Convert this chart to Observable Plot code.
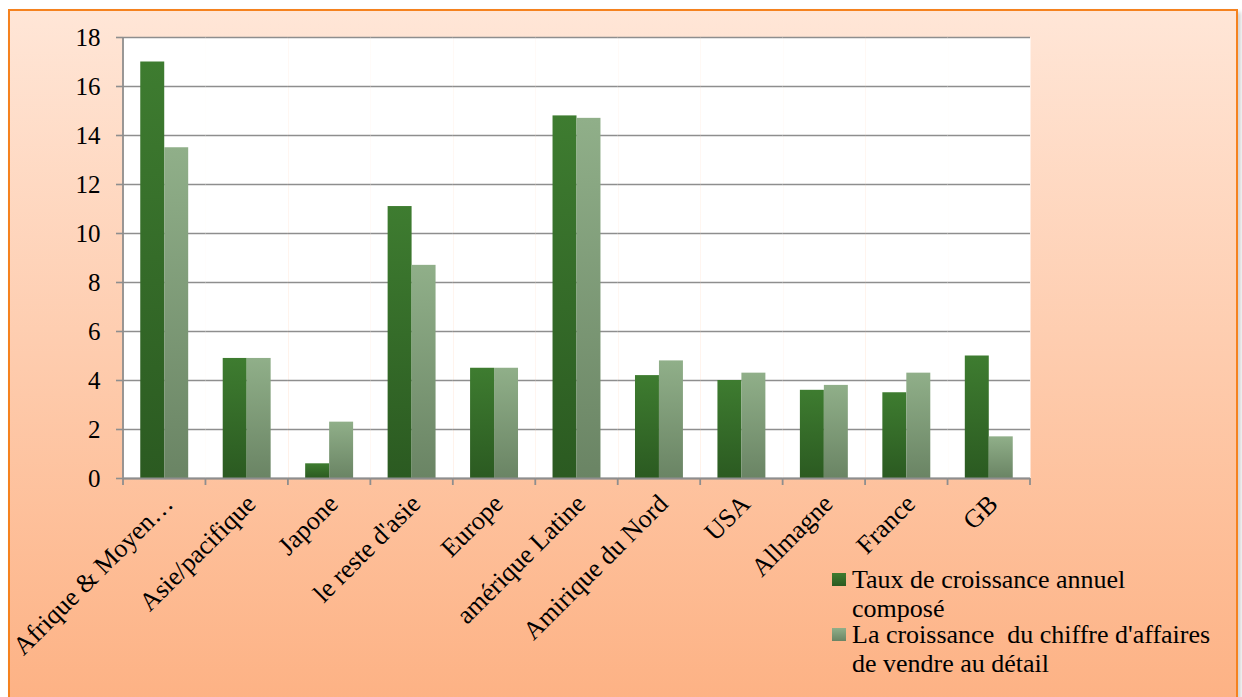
<!DOCTYPE html>
<html>
<head>
<meta charset="utf-8">
<script src="https://cdn.jsdelivr.net/npm/d3@7"></script>
<script src="https://cdn.jsdelivr.net/npm/@observablehq/plot@0.6"></script>
<style>
  html, body { margin: 0; padding: 0; width: 1242px; height: 697px; overflow: hidden; background: #ffffff; }
  #frame {
    position: absolute; left: 8px; top: 9px; width: 1226px; height: 700px;
    border: 2px solid #f5821f;
    background: linear-gradient(to bottom, #ffe6d7 0%, #fdb183 100%);
    box-shadow: 3px 3px 4px rgba(0,0,0,0.18);
  }
  #chart { position: absolute; left: 0; top: 0; }
  #chart svg text { font-family: "Liberation Serif", "DejaVu Serif", serif; }
  #legend {
    position: absolute; left: 832px; top: 565px;
    font-family: "Liberation Serif", "DejaVu Serif", serif; font-size: 26px; color: #000;
    line-height: 29px;
  }
  .item { display: flex; align-items: flex-start; }
  .sw { width: 14px; height: 13px; margin-top: 8px; margin-right: 6px; flex: none; }
  .txt { white-space: pre; }
</style>
</head>
<body>
<div id="frame"></div>
<div id="chart"></div>
<div id="legend"></div>
<script>
const categories = ["Afrique & Moyen…", "Asie/pacifique", "Japone", "le reste d'asie", "Europe",
  "amérique Latine", "Amirique du Nord", "USA", "Allmagne", "France", "GB"];
const seriesNames = ["Taux de croissance annuel composé", "La croissance  du chiffre d'affaires de vendre au détail"];
const tauxAnnuel = [17.0, 4.9, 0.6, 11.1, 4.5, 14.8, 4.2, 4.0, 3.6, 3.5, 5.0];
const croissanceCA = [13.5, 4.9, 2.3, 8.7, 4.5, 14.7, 4.8, 4.3, 3.8, 4.3, 1.7];
const yTicks = [0, 2, 4, 6, 8, 10, 12, 14, 16, 18];
const legendLines = [["Taux de croissance annuel", "composé"], ["La croissance  du chiffre d'affaires", "de vendre au détail"]];

const data = [];
categories.forEach((c, i) => {
  data.push({cat: c, series: seriesNames[0], value: tauxAnnuel[i]});
  data.push({cat: c, series: seriesNames[1], value: croissanceCA[i]});
});

const gridColor = "#8e8e8e";
const font = "'Liberation Serif', 'DejaVu Serif', serif";

const chart = Plot.plot({
  width: 1242,
  height: 697,
  marginLeft: 123,
  marginRight: 212,
  marginTop: 37,
  marginBottom: 219,
  style: { background: "transparent", fontFamily: font, fontSize: "25px", color: "#000", overflow: "visible" },
  fx: { domain: categories, padding: 0, round: false, label: null },
  x: { domain: seriesNames, paddingInner: 0, paddingOuter: 0.72, round: false, axis: null },
  y: { domain: [0, 18], ticks: yTicks, label: null },
  color: { domain: seriesNames, range: ["url(#gDark)", "url(#gLight)"] },
  marks: [
    Plot.frame({ fill: "white", stroke: null }),
    Plot.gridY(yTicks, { stroke: gridColor, strokeOpacity: 1, strokeWidth: 1.6 }),
    Plot.barY(data, { fx: "cat", x: "series", y: "value", fill: "series", insetLeft: 0, insetRight: 0 }),
    Plot.ruleY([0], { stroke: gridColor, strokeWidth: 2 }),
    Plot.axisY(yTicks, { tickSize: 7, tickPadding: 16, stroke: gridColor, strokeWidth: 1.6, fontSize: 25, fill: "#000", label: null }),
    Plot.axisFx({ anchor: "bottom", tickSize: 0, tickRotate: -45, tickPadding: 21, dx: 4, fontSize: 26, fill: "#000", label: null })
  ]
});

// gradients
const svgNS = "http://www.w3.org/2000/svg";
const defs = document.createElementNS(svgNS, "defs");
defs.innerHTML = `
  <linearGradient id="gDark" x1="0" y1="0" x2="0" y2="1">
    <stop offset="0" stop-color="#3e7c30"/><stop offset="1" stop-color="#2b5a21"/>
  </linearGradient>
  <linearGradient id="gLight" x1="0" y1="0" x2="0" y2="1">
    <stop offset="0" stop-color="#90af89"/><stop offset="1" stop-color="#6a8464"/>
  </linearGradient>`;
chart.insertBefore(defs, chart.firstChild);

// axis lines and category boundary ticks from the library's scales
const fx = chart.scale("fx");
const y = chart.scale("y");
const y0 = y.apply(0), yTop = y.apply(18);
const g = d3.select(chart).append("g").attr("stroke", gridColor).attr("stroke-width", 1.8);
const starts = categories.map(c => fx.apply(c));
const bounds = starts.concat([starts[starts.length - 1] + fx.bandwidth]);
bounds.forEach(b => g.append("line").attr("x1", b).attr("x2", b).attr("y1", y0).attr("y2", y0 + 7));
g.append("line").attr("x1", bounds[0]).attr("x2", bounds[0]).attr("y1", yTop).attr("y2", y0);

document.getElementById("chart").appendChild(chart);

// legend
const legendColors = ["linear-gradient(#3e7c30,#2b5a21)", "linear-gradient(#90af89,#6a8464)"];
const leg = d3.select("#legend");
legendLines.forEach((lines, i) => {
  const it = leg.append("div").attr("class", "item").style("margin-top", i ? "-3px" : "0px");
  it.append("div").attr("class", "sw").style("background", legendColors[i]);
  it.append("div").attr("class", "txt").html(lines.join("\n"));
});
</script>
</body>
</html>
